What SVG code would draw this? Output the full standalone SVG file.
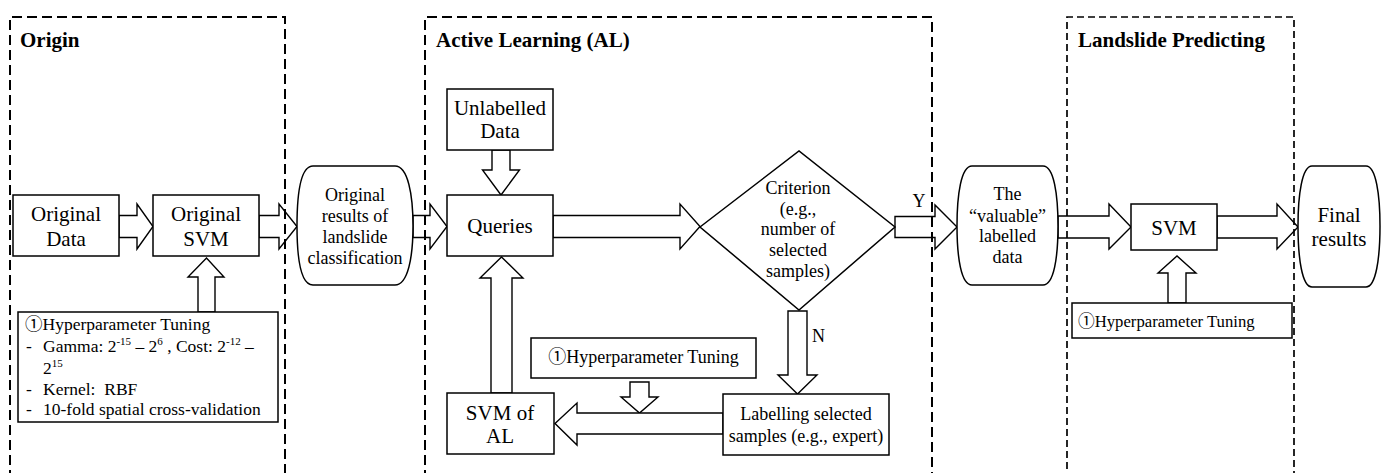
<svg xmlns="http://www.w3.org/2000/svg" width="1385" height="473" viewBox="0 0 1385 473">
<defs>
<style>
text{font-family:"Liberation Serif","Noto Sans CJK SC",serif;fill:#000}
.t21{font-size:21px}
.t18{font-size:18px}
.t17{font-size:17.5px}
.t16{font-size:16.7px}
.ttl{font-size:21px;font-weight:bold}
.c{text-anchor:middle}
.box{fill:#fff;stroke:#000;stroke-width:1.5}
.arr{fill:#fff;stroke:#000;stroke-width:1.4;stroke-linejoin:miter}
.dash{fill:none;stroke:#000;stroke-width:2;stroke-dasharray:10 5}
.dash2{fill:none;stroke:#000;stroke-width:1.7;stroke-dasharray:7 4}
</style>
</defs>
<rect width="1385" height="473" fill="#fff"/>

<g id="connectors">
<polygon class="arr" points="119,215.5 137,215.5 137,204 153,226.5 137,249 137,237.5 119,237.5"/>
<polygon class="arr" points="259,215.5 279,215.5 279,204 297,226.5 279,249 279,237.5 259,237.5"/>
<polygon class="arr" points="413,215.5 430,215.5 430,204 447,226.5 430,249 430,237.5 413,237.5"/>
<polygon class="arr" points="553,215.5 680,215.5 680,204 700,226.5 680,249 680,237.5 553,237.5"/>
<polygon class="arr" points="895,216.5 935,216.5 935,205 957,227 935,249 935,237.5 895,237.5"/>
<polygon class="arr" points="1058,216 1109,216 1109,204 1131,227 1109,249 1109,238 1058,238"/>
<polygon class="arr" points="1217,216 1277,216 1277,204 1298,227 1277,249 1277,238 1217,238"/>
<polygon class="arr" points="492,150 510,150 510,170 519.5,170 501,195 482.5,170 492,170"/>
<polygon class="arr" points="491,393 491,278 480,278 501.5,257 523,278 512,278 512,393"/>
<polygon class="arr" points="198,312 198,277 188,277 206.5,258 224,277 215,277 215,312"/>
<polygon class="arr" points="1168,303 1168,273 1158,273 1177,256 1196,273 1186,273 1186,303"/>
<polygon class="arr" points="788,311 788,375 778,375 797.5,394 817,375 807,375 807,311"/>
<polygon class="arr" points="630,382 630,397 621,397 639.5,413 658,397 649,397 649,382"/>
<polygon class="arr" points="723,413 577,413 577,403 555,423.5 577,445 577,434 723,434"/>
<text class="t18 c" x="919" y="207">Y</text>
<text class="t18" x="812" y="342">N</text>
</g>

<g id="node-original-data">
<rect class="box" x="13" y="195" width="106" height="61"/>
<text class="t21 c" x="66" y="221">Original</text>
<text class="t21 c" x="66" y="246">Data</text>
</g>
<g id="node-original-svm">
<rect class="box" x="153" y="195" width="106" height="61"/>
<text class="t21 c" x="206" y="221">Original</text>
<text class="t21 c" x="206" y="246">SVM</text>
</g>
<g id="node-origin-tuning">
<rect class="box" x="18" y="312" width="260" height="110"/>
<text class="t17" x="25" y="330">①Hyperparameter Tuning</text>
<text class="t17" x="26" y="352">-</text>
<text class="t17" x="43" y="352">Gamma: 2<tspan font-size="11" dy="-7">-15</tspan><tspan dy="7"> – 2</tspan><tspan font-size="11" dy="-7">6</tspan><tspan dy="7"> , Cost: 2</tspan><tspan font-size="11" dy="-7">-12</tspan><tspan dy="7"> –</tspan></text>
<text class="t17" x="43" y="374">2<tspan font-size="11" dy="-7">15</tspan></text>
<text class="t17" x="26" y="395">-</text>
<text class="t17" x="43" y="395" xml:space="preserve">Kernel:  RBF</text>
<text class="t17" x="26" y="415">-</text>
<text class="t17" x="43" y="415">10-fold spatial cross-validation</text>
</g>
<g id="node-original-results">
<path class="box" d="M313,166 L395,166 C408,166 413,195 413,226 C413,257 408,285 395,285 L313,285 C300,285 297,257 297,226 C297,195 300,166 313,166 Z"/>
<text class="t18 c" x="355" y="201">Original</text>
<text class="t18 c" x="355" y="222">results of</text>
<text class="t18 c" x="355" y="243">landslide</text>
<text class="t18 c" x="355" y="264">classification</text>
</g>
<g id="node-unlabelled">
<rect class="box" x="447" y="89" width="106" height="61"/>
<text class="t21 c" x="500" y="115">Unlabelled</text>
<text class="t21 c" x="500" y="138">Data</text>
</g>
<g id="node-queries">
<rect class="box" x="447" y="195" width="106" height="61"/>
<text class="t21 c" x="500" y="233">Queries</text>
</g>
<g id="node-criterion">
<polygon class="box" points="700,227 799,151 895,227 799,310"/>
<text class="t18 c" x="798" y="194">Criterion</text>
<text class="t18 c" x="798" y="215">(e.g.,</text>
<text class="t18 c" x="798" y="235">number of</text>
<text class="t18 c" x="798" y="256">selected</text>
<text class="t18 c" x="798" y="277">samples)</text>
</g>
<g id="node-al-tuning">
<rect class="box" x="531" y="338" width="225" height="40"/>
<text class="t18 c" x="643.5" y="363">①Hyperparameter Tuning</text>
</g>
<g id="node-svm-al">
<rect class="box" x="447" y="393" width="107" height="61"/>
<text class="t21 c" x="500" y="420">SVM of</text>
<text class="t21 c" x="500" y="443">AL</text>
</g>
<g id="node-labelling">
<rect class="box" x="723" y="394" width="166" height="61"/>
<text class="t18 c" x="806" y="420">Labelling selected</text>
<text class="t18 c" x="806" y="442">samples (e.g., expert)</text>
</g>
<g id="node-valuable">
<path class="box" d="M972,166 L1043,166 C1054,166 1058,195 1058,226 C1058,257 1054,285 1043,285 L972,285 C961,285 957,257 957,226 C957,195 961,166 972,166 Z"/>
<text class="t18 c" x="1007.5" y="200">The</text>
<text class="t18 c" x="1007.5" y="222">“valuable”</text>
<text class="t18 c" x="1007.5" y="242">labelled</text>
<text class="t18 c" x="1007.5" y="263">data</text>
</g>
<g id="node-svm">
<rect class="box" x="1131" y="204" width="86" height="46"/>
<text class="t21 c" x="1174" y="235">SVM</text>
</g>
<g id="node-lp-tuning">
<rect class="box" x="1072" y="303" width="220" height="35"/>
<text class="t16" x="1078" y="327">①Hyperparameter Tuning</text>
</g>
<g id="node-final">
<path class="box" d="M1312,166 L1366,166 C1376,166 1380,195 1380,226 C1380,258 1376,287 1366,287 L1312,287 C1302,287 1298,258 1298,226 C1298,195 1302,166 1312,166 Z"/>
<text class="t21 c" x="1339" y="222">Final</text>
<text class="t21 c" x="1339" y="246">results</text>
</g>

<g id="group-origin">
<path class="dash" d="M10,480 V17 H285 V480"/>
<text class="ttl" x="20" y="47">Origin</text>
</g>
<g id="group-active-learning">
<path class="dash" d="M425,480 V17 H932 V480"/>
<text class="ttl" x="436" y="47">Active Learning (AL)</text>
</g>
<g id="group-landslide-predicting">
<path class="dash2" d="M1067,480 V17 H1294 V480"/>
<text class="ttl" x="1078" y="47">Landslide Predicting</text>
</g>
</svg>
